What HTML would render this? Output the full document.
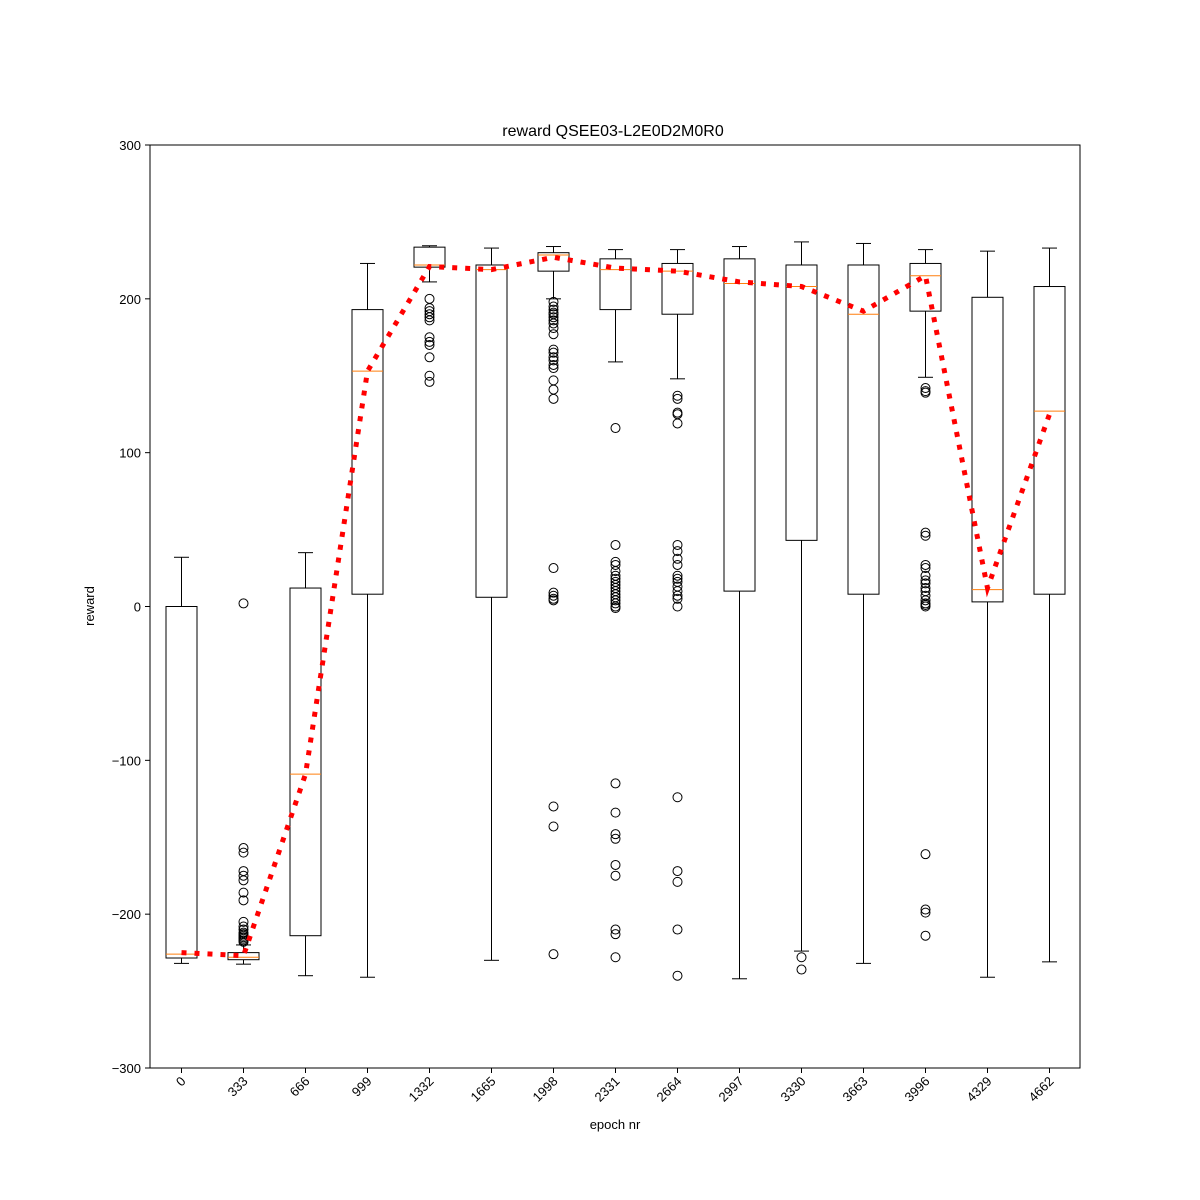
<!DOCTYPE html>
<html><head><meta charset="utf-8"><style>
html,body{margin:0;padding:0;background:#fff;}
svg{display:block;font-family:"Liberation Sans","DejaVu Sans",sans-serif;}
</style></head><body>
<svg id="chart" width="1200" height="1200" viewBox="0 0 1200 1200" xmlns="http://www.w3.org/2000/svg">
<rect x="0" y="0" width="1200" height="1200" fill="#fff"/>
<text x="613" y="136" font-size="16" text-anchor="middle">reward QSEE03-L2E0D2M0R0</text>
<text x="615" y="1129" font-size="13" text-anchor="middle">epoch nr</text>
<text transform="translate(94,606) rotate(-90)" font-size="13" text-anchor="middle">reward</text>
<g id="plot"></g>
<rect x="150" y="145" width="930" height="923" fill="none" stroke="#000" stroke-width="1"/>
</svg>
<script>
const categories = ["0","333","666","999","1332","1665","1998","2331","2664","2997","3330","3663","3996","4329","4662"];
const whiskerLow = [-232,-232.5,-240,-241,211,-230,200,159,148,-242,-224,-232,149,-241,-231];
const q1 = [-228.5,-229.6,-214,8,220.6,6,218,193,190,10,43,8,192,3,8];
const medians = [-226,-228,-109,153,222,219,228.5,219,218,210,208,190,215,11,127];
const q3 = [0,-225,12,193,233.6,222,230,226,223,226,222,222,223,201,208];
const whiskerHigh = [32,-220,35,223,234.5,233,234,232,232,234,237,236,232,231,233];
const means = [-225,-227,-109,153,221,219,227,220,218,211,208,192,215,12,125];
const outliers = [
 [],
 [2,-157,-160,-172,-175,-178,-186,-191,-205,-208,-210,-212,-213,-214,-215,-216,-217,-218],
 [],
 [],
 [200,194,192,190,188,186,175,172,170,162,150,146],
 [],
 [198,195,193,191,190,188,186,184,181,177,167,165,162,160,157,155,147,141,135,25,9,7,5,4,-130,-143,-226],
 [116,40,29,27,23,20,18,16,14,12,10,8,6,4,2,0,-1,-115,-134,-148,-151,-168,-175,-210,-213,-228],
 [137,135,126,125,119,40,36,31,27,20,18,16,13,10,7,5,0,-124,-172,-179,-210,-240],
 [],
 [-228,-236],
 [],
 [142,140,139,48,46,27,25,20,17,15,12,10,7,4,2,1,0,-161,-197,-199,-214],
 [],
 []
];
const yTicks = [-300,-200,-100,0,100,200,300];
const yTickLabels = ["\u2212300","\u2212200","\u2212100","0","100","200","300"];

const NS="http://www.w3.org/2000/svg";
const g=document.getElementById('plot');
function yS(v){return 606.5-(v)*923/600;}
function xS(i){return 181.5+i*62;}
function mk(tag,attrs){const e=document.createElementNS(NS,tag);for(const k in attrs)e.setAttribute(k,attrs[k]);g.appendChild(e);return e;}
const bw=31, cw=15;
yTicks.forEach((t,i)=>{
  const y=yS(t);
  const tk=mk('line',{x1:145,x2:150,y1:y,y2:y,stroke:'#000'});
  
  
  const lb=mk('text',{x:141,y:y+5,'font-size':13,'text-anchor':'end'});
  lb.textContent=yTickLabels[i];
  
  
});
categories.forEach((c,i)=>{
  const x=xS(i);
  const tk=mk('line',{x1:x,x2:x,y1:1068,y2:1073,stroke:'#000'});
  
  
  const lb=mk('text',{'font-size':13,'text-anchor':'end',transform:`translate(${x+5},${1082}) rotate(-45)`});
  lb.textContent=c;
  
  
  const grp=document.createElementNS(NS,'g');g.appendChild(grp);
  
  
  function add(tag,a){const e=document.createElementNS(NS,tag);for(const k in a)e.setAttribute(k,a[k]);grp.appendChild(e);return e;}
  add('line',{x1:x,x2:x,y1:yS(q1[i]),y2:yS(whiskerLow[i]),stroke:'#000'});
  add('line',{x1:x,x2:x,y1:yS(q3[i]),y2:yS(whiskerHigh[i]),stroke:'#000'});
  add('line',{x1:x-cw/2,x2:x+cw/2,y1:yS(whiskerLow[i]),y2:yS(whiskerLow[i]),stroke:'#000'});
  add('line',{x1:x-cw/2,x2:x+cw/2,y1:yS(whiskerHigh[i]),y2:yS(whiskerHigh[i]),stroke:'#000'});
  add('rect',{x:x-bw/2,y:yS(q3[i]),width:bw,height:Math.max(0.5,yS(q1[i])-yS(q3[i])),fill:'none',stroke:'#000'});
  add('line',{x1:x-bw/2,x2:x+bw/2,y1:yS(medians[i]),y2:yS(medians[i]),stroke:'#ff7f0e'});
  outliers[i].forEach(v=>{
    const o=add('circle',{cx:x,cy:yS(v),r:4.5,fill:'none',stroke:'#000'});
    
    
  });
});
const pts=means.map((m,i)=>xS(i)+','+yS(m)).join(' ');
const ml=mk('polyline',{points:pts,fill:'none',stroke:'#ff0000','stroke-width':5,'stroke-dasharray':'5,8'});


</script>
</body></html>
